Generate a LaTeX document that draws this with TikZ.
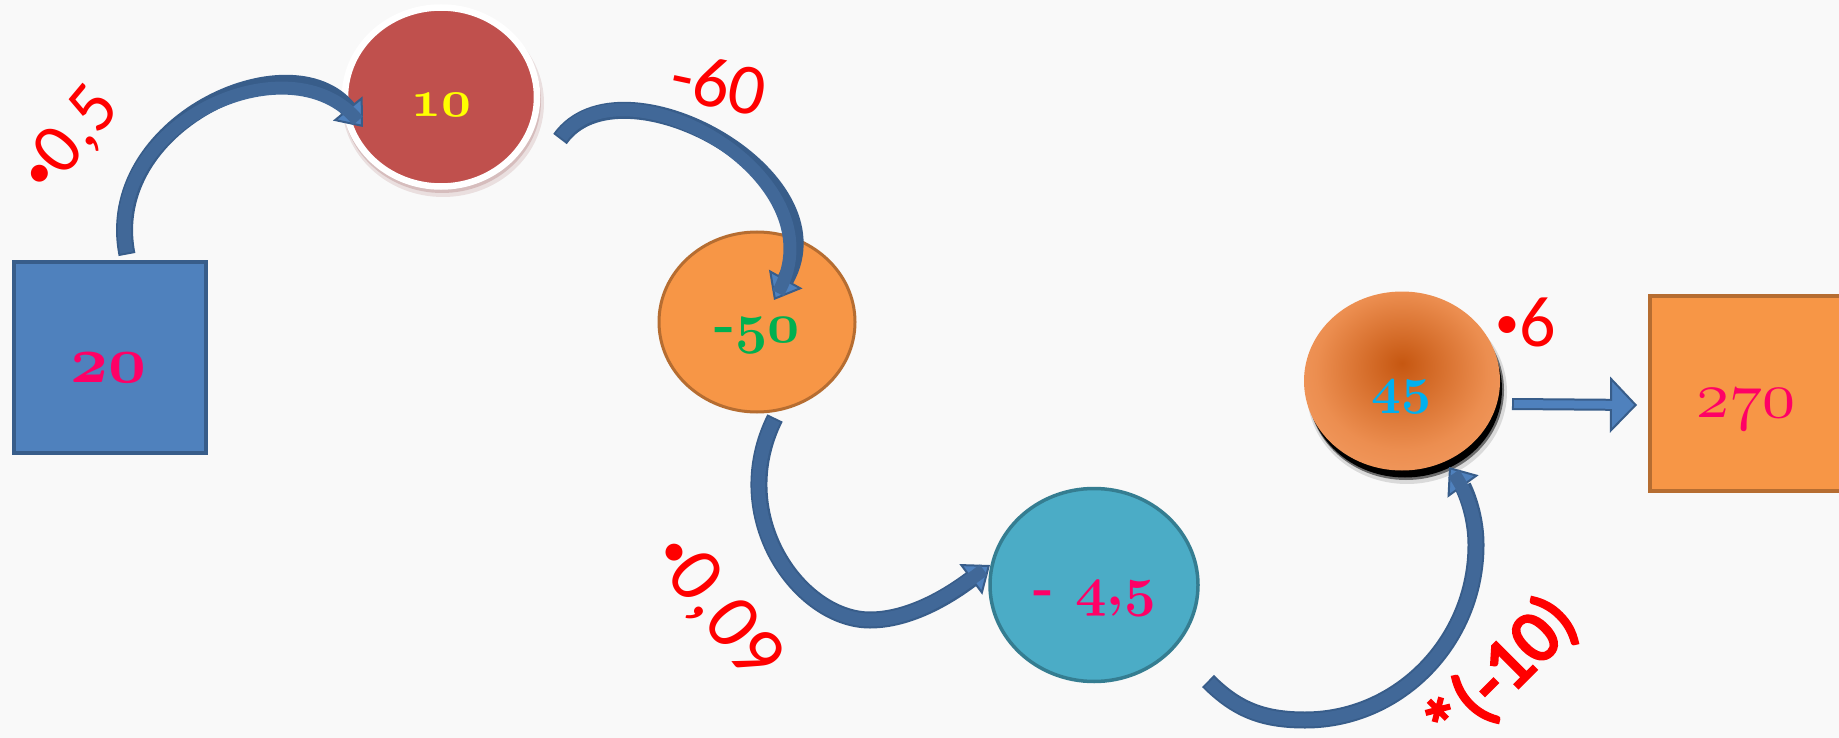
\documentclass[tikz,border=0pt]{standalone}
\usepackage{fontspec}
\newfontfamily\lblfont{Carlito}
\newfontfamily\lblbfont[FakeBold=4]{Carlito}
\usetikzlibrary{shapes.geometric,arrows.meta,calc}
\definecolor{bgc}{RGB}{249,249,249}
\definecolor{boxblue}{HTML}{4F81BD}
\definecolor{boxbluedk}{HTML}{385D8A}
\definecolor{redc}{HTML}{C0504D}
\definecolor{orng}{HTML}{F79646}
\definecolor{orngdk}{HTML}{B66D31}
\definecolor{aqua}{HTML}{4BACC6}
\definecolor{aquadk}{HTML}{357D91}
\definecolor{arrdark}{HTML}{385D8A}
\definecolor{arrmid}{HTML}{416898}
\definecolor{arrlight}{HTML}{4F81BD}
\definecolor{magc}{HTML}{FF0066}
\definecolor{yelc}{HTML}{FFFF00}
\definecolor{grnc}{HTML}{00B050}
\definecolor{cync}{HTML}{00B0F0}
\definecolor{sphin}{HTML}{C65711}
\definecolor{sphmid}{HTML}{EC8E50}
\definecolor{sphout}{HTML}{FCAE78}
\pgfdeclareradialshading{sphere}{\pgfpoint{0bp}{5bp}}{color(0bp)=(sphin); color(22bp)=(sphmid); color(46bp)=(sphout); color(50bp)=(sphout)}
\newcommand\osfb[2]{{\font\osfbtmp=cmmib10 at #1pt\osfbtmp #2}}
\newcommand\osfm[2]{{\font\osfmtmp=cmmi10 at #1pt\osfmtmp #2}}
\newcommand\bul{\raisebox{8pt}{\fontsize{48}{50}\selectfont •}}
\newcommand\blockarc[1]{\draw[barout] #1; \draw[barin] #1;}
\newcommand\blockline[1]{\draw[sarout] #1; \draw[sarin] #1;}
\tikzset{
  barout/.style={draw=arrdark, line width=17pt, -{Triangle[length=24pt,width=38pt,fill=arrlight,line width=2pt]}},
  barin/.style={draw=arrmid, line width=13pt, shorten >=8pt, shorten <=2pt},
  sarout/.style={draw=arrdark, line width=12pt, -{Triangle[length=27pt,width=56pt,fill=arrlight,line width=2pt]}},
  sarin/.style={draw=arrlight, line width=8pt, shorten >=8pt, shorten <=2pt},
  lbl/.style={text=red, font=\lblfont\fontsize{72}{80}\selectfont},
  num/.style={anchor=base},
}
\begin{document}
\begin{tikzpicture}[x=1pt,y=-1pt, every node/.style={inner sep=0pt, outer sep=0pt}]
\useasboundingbox (0,0) rectangle (1839,738);
\clip (0,0) rectangle (1839,738);
\fill[bgc] (0,0) rectangle (1839,738);

% shadows
\fill[black!60!red, opacity=0.10] (443,103) ellipse [x radius=101pt, y radius=94pt];
\fill[black!60!red, opacity=0.15] (442,101) ellipse [x radius=99pt, y radius=92pt];
\fill[black, opacity=0.12] (1407,392) ellipse [x radius=100pt, y radius=92pt];
\fill[black, opacity=0.5] (1406,390) ellipse [x radius=98pt, y radius=90pt];
\fill[black] (1405,389) ellipse [x radius=97pt, y radius=88.5pt];

% shapes
\node[rectangle, draw=boxbluedk, fill=boxblue, line width=4pt, minimum width=192pt, minimum height=191pt] (n20) at (110,357.5) {};
\node[ellipse, draw=white, fill=redc, line width=6.5pt, minimum width=192pt, minimum height=179pt] (n10) at (441,97) {};
\node[ellipse, draw=orngdk, fill=orng, line width=3pt, minimum width=196pt, minimum height=180pt] (n50) at (757,322) {};
\node[ellipse, draw=aquadk, fill=aqua, line width=3.5pt, minimum width=208pt, minimum height=193pt] (n45c) at (1094,585) {};
\node[ellipse, shading=sphere, minimum width=196pt, minimum height=179pt] (n45) at (1402,381) {};
\node[rectangle, draw=orngdk, fill=orng, line width=4pt, minimum width=250pt, minimum height=195pt] (n270) at (1775,393.5) {};

% curved block arrows
\blockarc{($(n20.center)+(17,-103)$) .. controls +(-26,-131) and +(-73,-89) .. ($(n10.center)+(-78,30)$)}
\blockarc{($(n10.center)+(119,42)$) .. controls +(60,-85) and +(70,-125) .. ($(n50.center)+(17,-22)$)}
\blockarc{($(n50.center)+(18,96)$) .. controls +(-49.5,99) and +(-70,0) .. (870,620) .. controls +(45,0) and +(-32,24) .. ($(n45c.center)+(-104,-20)$)}
\blockarc{($(n45c.center)+(114,96)$) .. controls +(28,28) and +(-43,0) .. (1305,720) .. controls +(95,0) and +(0,95) .. (1476,545) .. controls +(0,-35) and +(13,18) .. ($(n45.center)+(47,86)$)}
\blockline{($(n45.center)+(110,23)$) -- ($(n270.west)+(-13,11.5)$)}

% numbers
\node[num, text=magc, font=\fontsize{66}{70}\selectfont] (t20) at (108,382) {\osfb{66}{20}};
\node[num, text=yelc, font=\fontsize{52}{60}\selectfont] (t10) at (441,117) {\osfb{52}{10}};
\node[num, text=grnc, font=\fontsize{56}{60}\selectfont\bfseries] (t50) at (757,342) {-\osfb{56}{50}};
\node[num, text=magc, font=\fontsize{55}{60}\selectfont\bfseries] (t45c) at (1095,605) {- \osfb{55}{4;5}};
\node[num, text=cync, font=\fontsize{52}{60}\selectfont] (t45) at (1401,403) {\osfb{52}{45}};
\node[num, text=magc, font=\fontsize{66}{70}\selectfont] (t270) at (1746,417) {\osfm{66}{270}};

% operation labels
\node[lbl, rotate=50] (l05) at (71,141) {\bul0,5};
\node[lbl, rotate=-12] (l60) at (719,84) {-60};
\node[lbl, font=\lblfont\fontsize{78}{80}\selectfont, rotate=-52] (l009) at (716,608) {\bul0,09};
\node[lbl, font=\lblbfont\fontsize{74}{80}\selectfont, rotate=45] (l10) at (1502,673) {*(-10)};
\node[lbl] (l6) at (1526,322) {\bul6};
\end{tikzpicture}
\end{document}
